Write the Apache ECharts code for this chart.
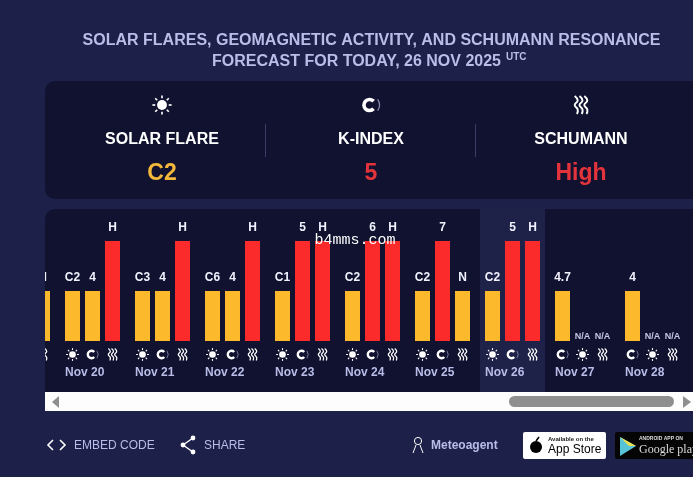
<!DOCTYPE html>
<html>
<head>
<meta charset="utf-8">
<style>
html, body { margin: 0; padding: 0; background: #1d2049; }
#main { width: 693px; height: 477px; }
</style>
<script src="https://cdn.jsdelivr.net/npm/echarts@6/dist/echarts.min.js"></script>
</head>
<body>
<div id="main"></div>
<script>
// data, one entry per day. each day has three bars, 0 = N/A, 1 = normal, 2 = high
var days = ['Nov 19', 'Nov 20', 'Nov 21', 'Nov 22', 'Nov 23', 'Nov 24', 'Nov 25', 'Nov 26', 'Nov 27', 'Nov 28'];
var slot1Levels = [1, 1, 1, 1, 1, 1, 1, 1, 1, 1];
var slot2Levels = [1, 1, 1, 1, 2, 2, 2, 2, 0, 0];
var slot3Levels = [1, 2, 2, 2, 2, 2, 1, 2, 0, 0];
var slot1Text = ['C2', 'C2', 'C3', 'C6', 'C1', 'C2', 'C2', 'C2', '4.7', '4'];
var slot2Text = ['4', '4', '4', '4', '5', '6', '7', '5', 'N/A', 'N/A'];
var slot3Text = ['N', 'H', 'H', 'H', 'H', 'H', 'N', 'H', 'N/A', 'N/A'];
var slot1Icons = ['sun', 'sun', 'sun', 'sun', 'sun', 'sun', 'sun', 'sun', 'magnet', 'magnet'];
var slot2Icons = ['magnet', 'magnet', 'magnet', 'magnet', 'magnet', 'magnet', 'magnet', 'magnet', 'sun', 'sun'];
var slot3Icons = ['waves', 'waves', 'waves', 'waves', 'waves', 'waves', 'waves', 'waves', 'waves', 'waves'];
var summaryLabels = ['SOLAR FLARE', 'K-INDEX', 'SCHUMANN'];
var summaryValues = ['C2', '5', 'High'];
var summaryIcons = ['sun', 'magnet', 'waves'];

var FONT = '"Liberation Sans", Arial, sans-serif';
var YELLOW = '#fdb92c';
var RED = '#fb2a2b';
var PANEL = '#10122f';
var PAGE = '#1d2049';
var SOFT = '#b9bde8';

function sunIcon(x, y, s, color) {
    var kids = [{ type: 'circle', shape: { cx: 0, cy: 0, r: 3.3 }, style: { fill: color } }];
    for (var i = 0; i < 8; i++) {
        var a = i * Math.PI / 4;
        kids.push({
            type: 'line',
            shape: { x1: Math.cos(a) * 4.5, y1: Math.sin(a) * 4.5, x2: Math.cos(a) * 6.4, y2: Math.sin(a) * 6.4 },
            style: { stroke: color, lineWidth: 1.1 }
        });
    }
    return { type: 'group', x: x, y: y, scaleX: s, scaleY: s, z: 5, children: kids };
}

function magnetIcon(x, y, s, color) {
    return {
        type: 'group', x: x, y: y, scaleX: s, scaleY: s, z: 5,
        children: [
            { type: 'arc', shape: { cx: -1, cy: 0, r: 3.7, startAngle: 0.75, endAngle: Math.PI * 2 - 0.75, clockwise: true }, style: { stroke: color, fill: null, lineWidth: 2.4 } },
            { type: 'arc', shape: { cx: -1, cy: 0, r: 6.6, startAngle: -0.6, endAngle: 0.6, clockwise: true }, style: { stroke: '#8e91b5', fill: null, lineWidth: 0.8 } }
        ]
    };
}

function wavesIcon(x, y, s, color) {
    var kids = [-3.2, 0, 3.2].map(function (o) {
        return {
            type: 'polyline',
            shape: { points: [[o - 1, -6], [o + 1, -3], [o - 1, 0], [o + 1, 3], [o + 0.5, 6]], smooth: 0.5 },
            style: { stroke: color, fill: null, lineWidth: 1.3 }
        };
    });
    return { type: 'group', x: x, y: y, scaleX: s, scaleY: s, z: 5, children: kids };
}

function makeIcon(name, x, y, s, color) {
    if (name === 'sun') return sunIcon(x, y, s, color);
    if (name === 'magnet') return magnetIcon(x, y, s, color);
    return wavesIcon(x, y, s, color);
}

function text(str, x, y, size, weight, color, align, family) {
    return {
        type: 'text', x: x, y: y + 1, z: 5, silent: true,
        style: {
            text: str, fill: color, font: weight + ' ' + size + 'px ' + (family || FONT),
            textAlign: align || 'center', textVerticalAlign: 'middle'
        }
    };
}

function rect(x, y, w, h, fill, r, z) {
    return { type: 'rect', z: z || 0, silent: true, shape: { x: x, y: y, width: w, height: h, r: r || 0 }, style: { fill: fill } };
}

var summaryColors = ['#f3b73a', '#e5333c', '#e5333c'];
var summaryX = [162, 371, 581];
var graphics = [
    rect(45, 81, 660, 118, PANEL, [10, 0, 0, 10]),
    rect(45, 209, 660, 183, PANEL, [10, 0, 0, 0]),
    rect(480, 209, 65, 183, '#1f2248', 0, 1),
    text('SOLAR FLARES, GEOMAGNETIC ACTIVITY, AND SCHUMANN RESONANCE', 371.5, 40, 16, 'bold', SOFT),
    text('FORECAST FOR TODAY, 26 NOV 2025', 356.5, 61, 16, 'bold', SOFT),
    text('UTC', 506, 56, 10, 'bold', SOFT, 'left'),
    { type: 'line', z: 5, shape: { x1: 265.5, y1: 124, x2: 265.5, y2: 157 }, style: { stroke: '#3a3d66', lineWidth: 1 } },
    { type: 'line', z: 5, shape: { x1: 475.5, y1: 124, x2: 475.5, y2: 157 }, style: { stroke: '#3a3d66', lineWidth: 1 } },
    // page colour over the bars scrolled off to the left
    rect(0, 205, 45, 190, PAGE, 0, 100),
    // scrollbar
    rect(45, 392, 648, 19, '#fdfdfd', 0, 101),
    rect(509, 396, 165, 11, '#8f8f8f', 5.5, 102),
    { type: 'polygon', z: 102, shape: { points: [[59, 396], [59, 408], [52, 402]] }, style: { fill: '#8f8f8f' } },
    { type: 'polygon', z: 102, shape: { points: [[683, 396], [683, 408], [691, 402]] }, style: { fill: '#8f8f8f' } },
    // watermark
    text('b4mms.com', 355, 239, 15, 'normal', '#ffffff', 'center', '"Liberation Mono", monospace'),
    // footer
    { type: 'polyline', z: 5, shape: { points: [[53, 440], [48, 445], [53, 450]] }, style: { stroke: '#ffffff', fill: null, lineWidth: 1.6 } },
    { type: 'polyline', z: 5, shape: { points: [[60, 440], [65, 445], [60, 450]] }, style: { stroke: '#ffffff', fill: null, lineWidth: 1.6 } },
    text('EMBED CODE', 74, 445, 12, 'normal', SOFT, 'left'),
    { type: 'polyline', z: 5, shape: { points: [[193, 438], [183, 445], [193, 452]] }, style: { stroke: '#ffffff', fill: null, lineWidth: 1.4 } },
    { type: 'circle', z: 5, shape: { cx: 193, cy: 438, r: 2.4 }, style: { fill: '#ffffff' } },
    { type: 'circle', z: 5, shape: { cx: 183, cy: 445, r: 2.4 }, style: { fill: '#ffffff' } },
    { type: 'circle', z: 5, shape: { cx: 193, cy: 452, r: 2.4 }, style: { fill: '#ffffff' } },
    text('SHARE', 204, 445, 12, 'normal', SOFT, 'left'),
    { type: 'circle', z: 5, shape: { cx: 418, cy: 441, r: 3.6 }, style: { stroke: '#ffffff', fill: null, lineWidth: 1 } },
    { type: 'line', z: 5, shape: { x1: 416, y1: 445, x2: 413, y2: 453 }, style: { stroke: '#ffffff', lineWidth: 1 } },
    { type: 'line', z: 5, shape: { x1: 420, y1: 445, x2: 423, y2: 453 }, style: { stroke: '#ffffff', lineWidth: 1 } },
    text('Meteoagent', 431, 445, 12, 'bold', SOFT, 'left'),
    // store badges
    rect(523, 432, 83, 27, '#ffffff', 2, 5),
    { type: 'circle', z: 6, shape: { cx: 536, cy: 447, r: 6 }, style: { fill: '#000000' } },
    { type: 'line', z: 6, shape: { x1: 536, y1: 441, x2: 539, y2: 437 }, style: { stroke: '#000000', lineWidth: 1.6 } },
    text('Available on the', 548, 438, 6, 'bold', '#222222', 'left'),
    text('App Store', 548, 449, 12, 'normal', '#000000', 'left'),
    rect(615, 432, 90, 27, '#050505', 2, 5),
    { type: 'polygon', z: 6, shape: { points: [[620, 437], [620, 456], [636, 446]] }, style: { fill: '#57c3d6' } },
    { type: 'polygon', z: 6, shape: { points: [[620, 437], [629, 446], [636, 446]] }, style: { fill: '#e8e04c' } },
    text('ANDROID APP ON', 639, 438, 5, 'bold', '#dddddd', 'left'),
    text('Google play', 639, 449, 12, 'normal', '#dddddd', 'left', '"Liberation Serif", serif')
];

summaryLabels.forEach(function (label, i) {
    graphics.push(makeIcon(summaryIcons[i], summaryX[i], 105, 1.5, '#ffffff'));
    graphics.push(text(label, summaryX[i], 139, 16, 'bold', '#ffffff'));
    graphics.push(text(summaryValues[i], summaryX[i], 173, 23, 'bold', summaryColors[i]));
});

function barSeries(levels, labels) {
    return {
        type: 'bar',
        barWidth: 15,
        barGap: '33.34%',
        data: levels.map(function (level, i) {
            return {
                value: level,
                itemStyle: { color: level === 2 ? RED : YELLOW },
                label: level === 0
                    ? { fontSize: 9, color: '#c4c7e6', distance: 0 }
                    : { fontSize: 12, color: '#f2f2ff', distance: 7 }
            };
        }),
        label: {
            show: true,
            position: 'top',
            fontFamily: FONT,
            fontWeight: 'bold',
            formatter: function (p) { return labels[p.dataIndex]; }
        },
        silent: true,
        animation: false
    };
}

// icons under the bars, placed from the day axis
function renderIcons(params, api) {
    var i = api.value(0);
    var base = api.coord([i, 0]);
    var pitch = api.size([1, 0])[0] / 3.5;
    var y = base[1] + 13.5;
    return {
        type: 'group',
        children: [
            makeIcon(slot1Icons[i], base[0] - pitch, y, 1, '#ffffff'),
            makeIcon(slot2Icons[i], base[0], y, 1, '#ffffff'),
            makeIcon(slot3Icons[i], base[0] + pitch, y, 1, '#ffffff')
        ]
    };
}

var myChart = echarts.init(document.getElementById('main'));
var option = {
    backgroundColor: PAGE,
    animation: false,
    graphic: { elements: graphics },
    grid: { left: -12.5, top: 241, width: 700, height: 100, containLabel: false, outerBoundsMode: 'none' },
    xAxis: {
        type: 'category',
        data: days,
        z: 3,
        axisLine: { show: false },
        axisTick: { show: false },
        axisLabel: {
            interval: 0,
            margin: 26,
            hideOverlap: false,
            formatter: function (v) { return '{a|' + v + '}'; },
            rich: { a: { width: 55, align: 'left', fontFamily: FONT, fontWeight: 'bold', fontSize: 12, color: SOFT } }
        }
    },
    yAxis: { type: 'value', min: 0, max: 2, show: false },
    series: [
        barSeries(slot1Levels, slot1Text),
        barSeries(slot2Levels, slot2Text),
        barSeries(slot3Levels, slot3Text),
        {
            type: 'custom',
            renderItem: renderIcons,
            data: days.map(function (d, i) { return [i, 0]; }),
            encode: { x: 0, y: 1 },
            clip: false,
            silent: true,
            z: 4
        }
    ]
};
myChart.setOption(option);
</script>
</body>
</html>
